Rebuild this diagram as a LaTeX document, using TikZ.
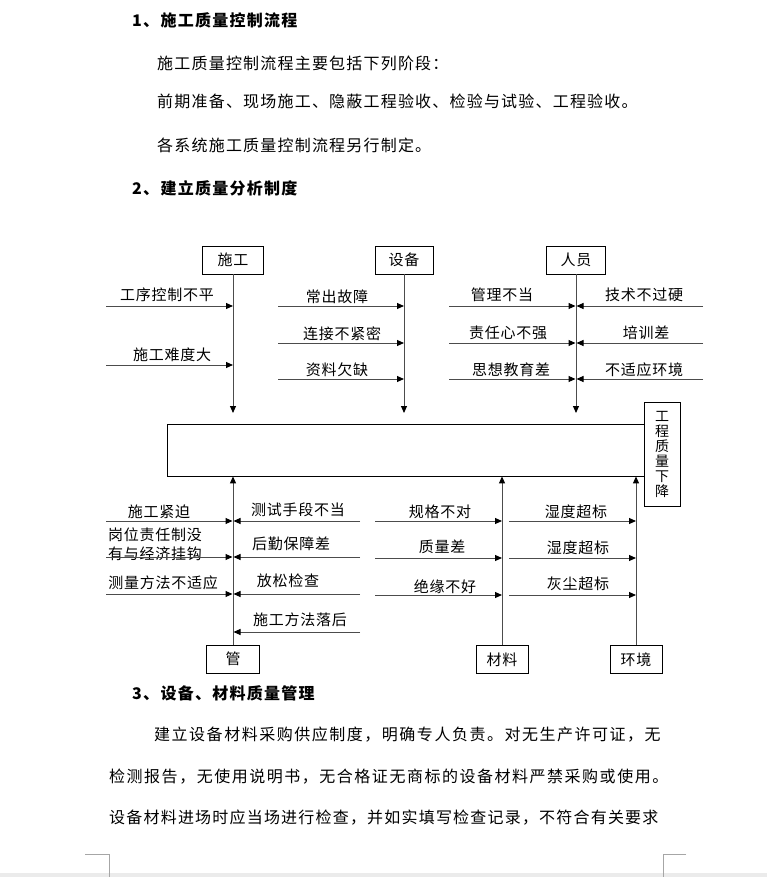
\documentclass[tikz,border=0pt]{standalone}
\usepackage{fontspec}
\usetikzlibrary{arrows.meta}
\setmainfont{Noto Sans CJK SC}
\newfontfamily\bodyfont[LetterSpace=7.5]{Noto Sans CJK SC}
\newfontfamily\bodyfontwide[LetterSpace=9.5]{Noto Sans CJK SC}
\newfontfamily\labfont[LetterSpace=5]{Noto Sans CJK SC}
\newfontfamily\headfont[LetterSpace=8]{Noto Sans CJK SC}
\begin{document}
\begin{tikzpicture}[x=1pt,y=-1pt,
  head/.style={inner sep=0, anchor=west, font=\headfont\bfseries\fontsize{16}{18}\selectfont},
  bodytxt/.style={inner sep=0, anchor=west, font=\bodyfont\fontsize{16}{18}\selectfont},
  bodywide/.style={inner sep=0, anchor=west, font=\bodyfontwide\fontsize{16}{18}\selectfont},
  box/.style={draw=black, line width=0.8pt, inner sep=0, minimum height=28, font=\labfont\fontsize{15}{16}\selectfont},
  lbl/.style={inner sep=0, font=\labfont\fontsize{15}{16}\selectfont},
  conn/.style={draw=black!70, line width=1pt, -{Triangle[length=7pt,width=6pt,color=black]}},
  corner/.style={draw=black!35, line width=0.8pt}]
\useasboundingbox (0,0) rectangle (767,877);
\fill[white] (0,0) rectangle (767,877);
\fill[black!8] (0,873) rectangle (767,877);

% document text
\node[head] (h1) at (132,20) {1、施工质量控制流程};
\node[bodytxt] (p1) at (157,63) {施工质量控制流程主要包括下列阶段：};
\node[bodytxt] (p2) at (157,101) {前期准备、现场施工、隐蔽工程验收、检验与试验、工程验收。};
\node[bodytxt] (p3) at (157,145) {各系统施工质量控制流程另行制定。};
\node[head] (h2) at (132,188) {2、建立质量分析制度};
\node[head] (h3) at (132,693) {3、设备、材料质量管理};
\node[bodywide] (p4) at (154,735) {建立设备材料采购供应制度，明确专人负责。对无生产许可证，无};
\node[bodywide] (p5) at (109,777) {检测报告，无使用说明书，无合格证无商标的设备材料严禁采购或使用。};
\node[bodytxt] (p6) at (109,818) {设备材料进场时应当场进行检查，并如实填写检查记录，不符合有关要求};

% page corner marks
\coordinate (cl1) at (85,854); \coordinate (cl2) at (109,854); \coordinate (cl3) at (109,877);
\draw[corner] (cl1) -- (cl2) -- (cl3);
\coordinate (cr1) at (686,854); \coordinate (cr2) at (663,854); \coordinate (cr3) at (663,877);
\draw[corner] (cr1) -- (cr2) -- (cr3);

% boxes
\node[box, minimum width=61] (shi) at (233,260) {施工};
\node[box, minimum width=58] (she) at (404,260) {设备};
\node[box, minimum width=59] (ren) at (576,260) {人员};
\node[draw=black, line width=0.8pt, minimum width=477, minimum height=52, inner sep=0] (main) at (405.5,450) {};
\node[box, minimum width=36, minimum height=104, align=center, font=\labfont\fontsize{14}{15}\selectfont] (jiang) at (662,454) {工\\程\\质\\量\\下\\降};
\node[box, minimum width=53] (guan) at (233,659) {管};
\node[box, minimum width=52] (cai) at (502,659.5) {材料};
\node[box, minimum width=52] (huan) at (636,659.5) {环境};

% top labels
\node[lbl] (t1) at (167,295) {工序控制不平};
\node[lbl] (t2) at (172,355) {施工难度大};
\node[lbl] (t3) at (337,297) {常出故障};
\node[lbl] (t4) at (342,334) {连接不紧密};
\node[lbl] (t5) at (337,370) {资料欠缺};
\node[lbl] (t6) at (502,295) {管理不当};
\node[lbl] (t7) at (644,295) {技术不过硬};
\node[lbl] (t8) at (508,333) {责任心不强};
\node[lbl] (t9) at (646,333) {培训差};
\node[lbl] (t10) at (511,370) {思想教育差};
\node[lbl] (t11) at (644,370) {不适应环境};

% bottom labels
\node[lbl] (b1) at (159,512) {施工紧迫};
\node[lbl, anchor=base west, align=left, font=\labfont\fontsize{15}{19}\selectfont] (b2) at (108,559) {岗位责任制没\\有与经济挂钩};
\node[lbl] (b3) at (163,583) {测量方法不适应};
\node[lbl] (b4) at (298,510) {测试手段不当};
\node[lbl] (b5) at (291,544) {后勤保障差};
\node[lbl] (b6) at (288,581) {放松检查};
\node[lbl] (b7) at (300,620) {施工方法落后};
\node[lbl] (b8) at (440,512) {规格不对};
\node[lbl] (b9) at (442,547) {质量差};
\node[lbl] (b10) at (445,587) {绝缘不好};
\node[lbl] (b11) at (576,512) {湿度超标};
\node[lbl] (b12) at (578,548) {湿度超标};
\node[lbl] (b13) at (578,584) {灰尘超标};

% vertical connectors
\coordinate (d1) at (233,413);
\coordinate (d2) at (404,413);
\coordinate (d3) at (576,413);
\draw[conn] (shi.south) -- (d1);
\draw[conn] (she.south) -- (d2);
\draw[conn] (ren.south) -- (d3);
\draw[conn] (guan.north) -- (guan.north |- main.south);
\draw[conn] (cai.north) -- (cai.north |- main.south);
\draw[conn] (huan.north) -- (huan.north |- main.south);

% horizontal connectors, top
\foreach \yy [count=\i] in {306,365} {
  \coordinate (sa\i) at (106,\yy); \coordinate (sb\i) at (233,\yy);
  \draw[conn] (sa\i) -- (sb\i);}
\foreach \yy [count=\i] in {306,343,379} {
  \coordinate (ea\i) at (278,\yy); \coordinate (eb\i) at (404,\yy);
  \draw[conn] (ea\i) -- (eb\i);
  \coordinate (ra\i) at (449,\yy); \coordinate (rb\i) at (575.5,\yy);
  \draw[conn] (ra\i) -- (rb\i);
  \coordinate (rc\i) at (703,\yy); \coordinate (rd\i) at (576.5,\yy);
  \draw[conn] (rc\i) -- (rd\i);}

% horizontal connectors, bottom
\foreach \yy [count=\i] in {521,557,594} {
  \coordinate (ga\i) at (106,\yy); \coordinate (gb\i) at (232.5,\yy);
  \draw[conn] (ga\i) -- (gb\i);}
\foreach \yy [count=\i] in {521,557,594,632} {
  \coordinate (gc\i) at (360,\yy); \coordinate (gd\i) at (233.5,\yy);
  \draw[conn] (gc\i) -- (gd\i);}
\foreach \yy [count=\i] in {521,558,595} {
  \coordinate (ma\i) at (375,\yy); \coordinate (mb\i) at (502,\yy);
  \draw[conn] (ma\i) -- (mb\i);
  \coordinate (ha\i) at (509,\yy); \coordinate (hb\i) at (636,\yy);
  \draw[conn] (ha\i) -- (hb\i);}
\end{tikzpicture}
\end{document}
